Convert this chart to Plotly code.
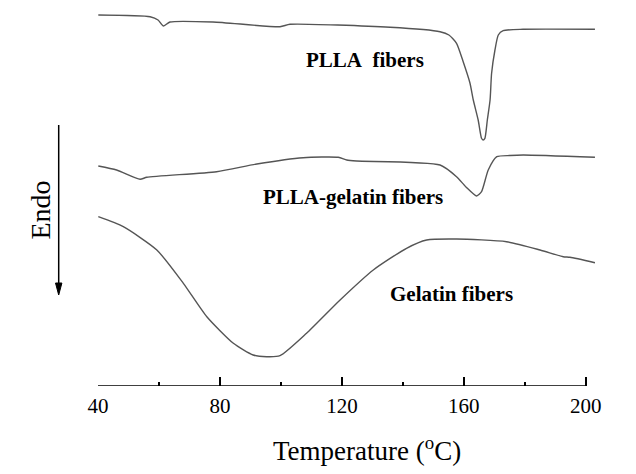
import plotly.graph_objects as go

# Temperature (°C) and heat flow (arbitrary units, endo down)
plla_T = [40.1, 57.1, 59.7, 61.4, 63.6, 77.7, 99.7, 103.0, 135.8, 152.2, 155.1, 157.6,
          159.7, 162.0, 163.1, 164.7, 165.8, 166.3, 166.9, 167.7, 168.6, 169.1, 170.2,
          171.3, 172.9, 179.4, 203.0]
plla_hf = [371, 369.3, 366, 360, 364, 364, 359.3, 361.7, 358.7, 354.3, 351, 342.7,
           325, 303, 286, 266, 247.7, 246, 247.7, 266, 286, 312.7, 336,
           351, 355.3, 356.7, 356.7]

blend_T = [40.1, 46.1, 53.8, 56.0, 78.9, 92.1, 107.3, 118.8, 121.6, 124.8, 152.2, 157.6,
           160.7, 164.2, 165.8, 168.0, 170.8, 175.1, 179.5, 203.0]
blend_hf = [220, 216, 206.7, 208.7, 214.3, 222, 228.3, 228.7, 226, 225, 221, 209.3,
            199, 190, 194.3, 216, 229.3, 230.5, 231, 228.7]

gel_T = [40.1, 48.3, 59.3, 68.0, 75.7, 84.4, 90.9, 95.3, 99.7, 108.4, 119.4, 130.3,
         141.2, 147.8, 157.6, 174.0, 185.0, 192.6, 194.8, 203.0]
gel_hf = [169.3, 159.3, 136, 102.7, 69.3, 42.7, 31, 29.3, 30.3, 52.7, 86, 116,
          137.7, 146, 147, 144.3, 136, 129.3, 128.7, 123.3]

labels = ["PLLA\u00a0\u00a0fibers", "PLLA-gelatin fibers", "Gelatin fibers"]
tick_vals = [40, 80, 120, 160, 200]
minor_vals = [60, 100, 140, 180]

line_style = dict(color="#555555", width=1.4, shape="spline", smoothing=0.6)

fig = go.Figure()
for T, hf, name in [(plla_T, plla_hf, labels[0]), (blend_T, blend_hf, labels[1]), (gel_T, gel_hf, labels[2])]:
    fig.add_trace(go.Scatter(x=T, y=hf, mode="lines", line=line_style, name=name, showlegend=False))

serif = "Liberation Serif, Times New Roman, serif"

fig.update_layout(
    width=636, height=474,
    margin=dict(l=98, r=38, t=0, b=88),
    plot_bgcolor="white", paper_bgcolor="white",
    xaxis=dict(range=[40, 204], showline=False, showgrid=False, zeroline=False,
               ticks="inside", ticklen=9, tickwidth=1.5, tickcolor="black",
               tickvals=tick_vals, ticktext=[str(v) for v in tick_vals],
               ticklabelstandoff=5,
               tickfont=dict(family=serif, size=21, color="black"),
               minor=dict(ticks="inside", ticklen=4, tickwidth=1.5, tickcolor="black", tickvals=minor_vals)),
    yaxis=dict(range=[0, 386], visible=False),
)

# axis line from 40 to 200
fig.add_shape(type="line", x0=40, x1=200, y0=0, y1=0, xref="x", yref="y",
              line=dict(color="black", width=1.5))

label_pos = [(127.6, 326), (123.5, 189.3), (156.1, 91.7)]
for (x, y), txt in zip(label_pos, labels):
    fig.add_annotation(x=x, y=y, xref="x", yref="y", text="<b>" + txt + "</b>", showarrow=False,
                       font=dict(family=serif, size=21, color="black"))

fig.add_annotation(x=0.538, y=(386 - 449) / 386, xref="paper", yref="paper",
                   text="Temperature (<sup>o</sup>C)", showarrow=False,
                   font=dict(family=serif, size=27, color="black"), yanchor="middle")

fig.add_annotation(x=(23 - 98) / 500, y=(386 - 210) / 386, xref="paper", yref="paper", text="Endo",
                   textangle=-90, showarrow=False, font=dict(family=serif, size=28, color="black"))

# Endo arrow: shaft and head
ax_x = (58.7 - 98) / 500
fig.add_shape(type="line", xref="paper", yref="paper", x0=ax_x, x1=ax_x,
              y0=(386 - 125) / 386, y1=(386 - 285) / 386, line=dict(color="black", width=1.5))
hw = 3.2 / 500
fig.add_shape(type="path", xref="paper", yref="paper",
              path=f"M {ax_x - hw},{(386 - 283) / 386} L {ax_x + hw},{(386 - 283) / 386} L {ax_x},{(386 - 295) / 386} Z",
              fillcolor="black", line=dict(color="black", width=1))

fig.write_html("out.html")
